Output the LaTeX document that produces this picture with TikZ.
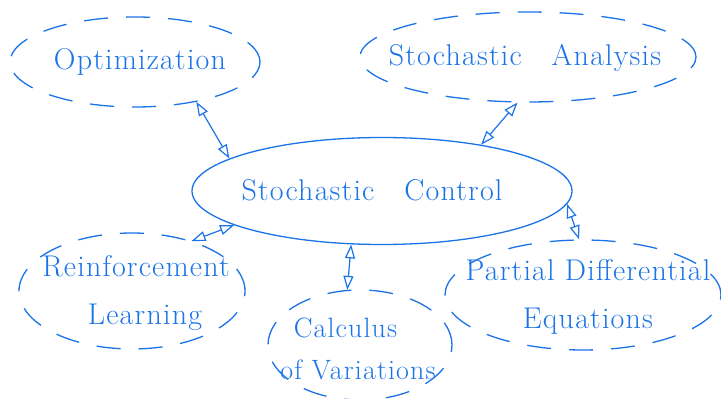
\documentclass[tikz,border=0pt]{standalone}
\usepackage{fontspec}
\setmainfont{Latin Modern Roman}[LetterSpace=4]
\usetikzlibrary{shapes.geometric,arrows.meta}
\definecolor{ink}{HTML}{1A73E8}
\begin{document}
\begin{tikzpicture}[x=1pt,y=1pt,
  topic/.style={ellipse,draw=ink,line width=1.3pt,dash pattern=on 24pt off 18pt,inner sep=0pt},
  core/.style={ellipse,draw=ink,line width=1.3pt,inner sep=0pt},
  words/.style={text=ink,align=center,inner sep=0pt,font=\fontsize{30}{48}\selectfont},
  link/.style={draw=ink,line width=1.2pt,{Triangle[open,length=14pt,width=10pt]}-{Triangle[open,length=14pt,width=10pt]}}]
\useasboundingbox (0,0) rectangle (721,399);
\node[topic,minimum width=250,minimum height=90] (opt) at (135,337) {};
\node[topic,minimum width=336,minimum height=90] (ana) at (528,342) {};
\node[core,minimum width=380,minimum height=107] (ctl) at (382,208) {};
\node[topic,minimum width=226,minimum height=116] (rl) at (132,108) {};
\node[topic,minimum width=184,minimum height=110] (cv) at (360,54) {};
\node[topic,minimum width=276,minimum height=110] (pde) at (583,104) {};
\node[words] (optT) at (140,337) {Optimization};
\node[words] (anaT) at (525,341) {Stochastic\quad Analysis};
\node[words] (ctlT) at (372,209) {Stochastic\quad Control};
\node[words] (rlT) at (136,106) {Reinforcement\\\hspace*{18pt}Learning};
\node[words,font=\fontsize{28}{42}\selectfont] (cvT) at (358,50) {\hspace*{-25pt}Calculus\\of Variations};
\node[words] (pdeT) at (588,102) {Partial Differential\\Equations};
\draw[link] (opt.-33) -- (ctl.168);
\draw[link] (ana.-103) -- (ctl.25);
\draw[link] (ctl.193) -- (rl.40);
\draw[link] (ctl.240) -- (cv.103);
\draw[link] (ctl.-4) -- (pde.94);
\end{tikzpicture}
\end{document}
